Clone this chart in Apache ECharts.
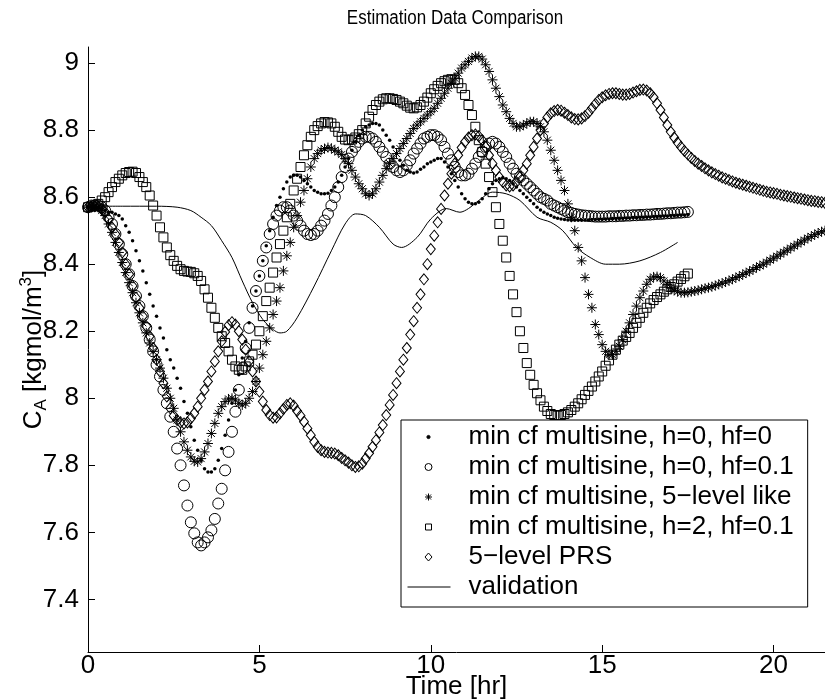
<!DOCTYPE html>
<html><head><meta charset="utf-8">
<script src="https://cdn.jsdelivr.net/npm/echarts@6/dist/echarts.min.js"></script>
<style>html,body{margin:0;padding:0;background:#fff}#c{width:825px;height:700px}</style>
</head><body><div id="c"></div>
<script>
const FONT = "'Liberation Sans', Arial, Helvetica, sans-serif";
const dt = 0.1; // sample time of the marker series [hr]
const titleText = 'Estimation Data Comparison';

const names = ['min cf multisine, h=0, hf=0','min cf multisine, h=0, hf=0.1','min cf multisine, 5\u2212level like','min cf multisine, h=2, hf=0.1','5\u2212level PRS','validation'];

// min cf multisine, h=0, hf=0   (t = 0 .. 17.5)
const dotsVals = [
8.57,8.572,8.572,8.57,8.565,8.56,8.555,8.555,8.55,8.545,
8.535,8.515,8.495,8.47,8.44,8.41,8.38,8.345,8.31,8.275,
8.245,8.21,8.18,8.145,8.115,8.09,8.06,8.03,7.99,7.955,
7.915,7.875,7.845,7.815,7.79,7.78,7.78,7.79,7.815,7.85,
7.89,7.935,7.985,8.025,8.07,8.12,8.17,8.225,8.275,8.32,
8.365,8.41,8.455,8.50,8.54,8.575,8.60,8.625,8.645,8.66,
8.665,8.665,8.66,8.65,8.64,8.63,8.62,8.615,8.61,8.61,
8.612,8.62,8.63,8.645,8.665,8.69,8.715,8.74,8.765,8.785,
8.80,8.81,8.815,8.82,8.82,8.815,8.80,8.785,8.77,8.75,
8.73,8.71,8.695,8.68,8.675,8.672,8.675,8.683,8.69,8.70,
8.705,8.71,8.715,8.715,8.705,8.69,8.67,8.65,8.63,8.61,
8.595,8.585,8.58,8.58,8.585,8.595,8.61,8.625,8.64,8.65,
8.655,8.658,8.655,8.65,8.64,8.63,8.62,8.61,8.60,8.59,
8.58,8.57,8.562,8.555,8.55,8.545,8.54,8.537,8.535,8.533,
8.532,8.531,8.531,8.531,8.531,8.532,8.532,8.533,8.533,8.534,
8.534,8.535,8.535,8.536,8.536,8.537,8.537,8.538,8.538,8.539,
8.539,8.54,8.54,8.541,8.541,8.542,8.542,8.543,8.544,8.544,
8.545,8.545,8.546,8.547,8.547,8.548];

// min cf multisine, h=0, hf=0.1   (t = 0 .. 17.5)
const circleVals = [
8.57,8.575,8.575,8.575,8.57,8.56,8.54,8.52,8.49,8.46,
8.43,8.40,8.37,8.335,8.305,8.275,8.245,8.21,8.175,8.14,
8.10,8.065,8.025,7.985,7.945,7.90,7.85,7.80,7.74,7.68,
7.63,7.597,7.57,7.561,7.57,7.585,7.606,7.64,7.686,7.73,
7.785,7.84,7.90,7.96,8.025,8.09,8.15,8.21,8.27,8.32,
8.365,8.41,8.45,8.49,8.52,8.545,8.56,8.57,8.57,8.56,
8.545,8.53,8.515,8.50,8.49,8.487,8.49,8.50,8.515,8.53,
8.55,8.575,8.60,8.63,8.66,8.69,8.715,8.735,8.75,8.765,
8.775,8.78,8.78,8.775,8.765,8.75,8.735,8.72,8.70,8.69,
8.68,8.675,8.68,8.695,8.71,8.73,8.745,8.76,8.775,8.78,
8.785,8.785,8.78,8.77,8.75,8.73,8.71,8.69,8.675,8.665,
8.665,8.67,8.685,8.70,8.72,8.735,8.75,8.76,8.765,8.76,
8.75,8.735,8.72,8.70,8.685,8.67,8.66,8.65,8.64,8.63,
8.62,8.61,8.60,8.595,8.59,8.58,8.575,8.57,8.565,8.56,
8.555,8.553,8.55,8.548,8.546,8.545,8.544,8.543,8.542,8.542,
8.542,8.542,8.543,8.543,8.543,8.544,8.544,8.545,8.545,8.546,
8.546,8.547,8.547,8.548,8.548,8.549,8.55,8.55,8.551,8.552,
8.552,8.553,8.554,8.554,8.555,8.556];

// min cf multisine, 5-level like   (t = 0 .. 21.5)
const starVals = [
8.57,8.573,8.573,8.57,8.56,8.545,8.52,8.495,8.465,8.435,
8.405,8.375,8.345,8.315,8.285,8.255,8.225,8.195,8.165,8.14,
8.115,8.09,8.06,8.03,8.00,7.97,7.935,7.90,7.87,7.845,
7.825,7.812,7.81,7.82,7.84,7.865,7.895,7.925,7.955,7.975,
7.99,7.998,8.00,7.995,7.985,7.98,7.985,8.00,8.02,8.05,
8.09,8.13,8.17,8.21,8.25,8.29,8.33,8.38,8.425,8.465,
8.51,8.545,8.585,8.62,8.655,8.69,8.715,8.73,8.74,8.745,
8.748,8.746,8.74,8.735,8.727,8.715,8.70,8.68,8.66,8.64,
8.625,8.61,8.605,8.61,8.625,8.645,8.665,8.685,8.70,8.715,
8.73,8.745,8.76,8.775,8.79,8.805,8.815,8.825,8.835,8.845,
8.855,8.865,8.88,8.895,8.91,8.925,8.94,8.955,8.97,8.985,
8.995,9.005,9.015,9.02,9.02,9.012,8.995,8.975,8.95,8.925,
8.90,8.875,8.855,8.835,8.82,8.81,8.81,8.815,8.82,8.825,
8.825,8.82,8.81,8.795,8.77,8.74,8.71,8.68,8.65,8.62,
8.58,8.54,8.50,8.45,8.41,8.36,8.31,8.27,8.22,8.19,
8.16,8.14,8.13,8.13,8.14,8.155,8.175,8.20,8.225,8.25,
8.275,8.30,8.32,8.34,8.355,8.362,8.363,8.36,8.35,8.34,
8.33,8.322,8.318,8.315,8.315,8.316,8.318,8.32,8.322,8.325,
8.328,8.33,8.333,8.336,8.34,8.343,8.347,8.351,8.355,8.36,
8.364,8.369,8.374,8.379,8.384,8.39,8.395,8.40,8.406,8.412,
8.418,8.424,8.43,8.436,8.442,8.448,8.454,8.46,8.466,8.472,
8.478,8.483,8.488,8.493,8.497,8.50];

// min cf multisine, h=2, hf=0.1   (t = 0 .. 17.5)
const squareVals = [
8.57,8.572,8.575,8.58,8.59,8.60,8.615,8.63,8.645,8.655,
8.665,8.672,8.675,8.676,8.672,8.66,8.645,8.63,8.605,8.575,
8.545,8.51,8.48,8.45,8.427,8.41,8.395,8.385,8.38,8.378,
8.377,8.373,8.365,8.35,8.325,8.30,8.27,8.24,8.21,8.185,
8.165,8.14,8.115,8.095,8.085,8.085,8.095,8.11,8.13,8.16,
8.20,8.245,8.29,8.33,8.375,8.42,8.46,8.50,8.54,8.58,
8.62,8.655,8.69,8.725,8.755,8.78,8.80,8.812,8.82,8.824,
8.823,8.82,8.81,8.795,8.78,8.772,8.77,8.772,8.778,8.788,
8.80,8.82,8.84,8.86,8.875,8.885,8.892,8.895,8.895,8.893,
8.89,8.885,8.88,8.873,8.867,8.865,8.868,8.875,8.885,8.897,
8.91,8.922,8.932,8.94,8.946,8.95,8.952,8.95,8.94,8.925,
8.905,8.875,8.845,8.81,8.77,8.735,8.70,8.66,8.615,8.57,
8.52,8.47,8.42,8.365,8.31,8.257,8.20,8.15,8.105,8.07,
8.04,8.015,7.994,7.975,7.962,7.953,7.95,7.948,7.95,7.953,
7.958,7.965,7.975,7.985,7.997,8.01,8.022,8.035,8.05,8.065,
8.08,8.097,8.113,8.13,8.145,8.16,8.172,8.183,8.195,8.21,
8.225,8.24,8.255,8.27,8.283,8.293,8.302,8.31,8.318,8.325,
8.332,8.34,8.348,8.356,8.364,8.372];

// 5-level PRS   (t = 0 .. 21.5)
const diamondVals = [
8.57,8.572,8.573,8.572,8.565,8.555,8.535,8.51,8.49,8.465,
8.435,8.40,8.37,8.335,8.30,8.27,8.245,8.215,8.185,8.15,
8.115,8.08,8.045,8.005,7.97,7.948,7.935,7.928,7.925,7.928,
7.94,7.955,7.975,8.00,8.025,8.05,8.08,8.11,8.14,8.17,
8.198,8.218,8.227,8.22,8.20,8.175,8.145,8.11,8.08,8.05,
8.02,7.99,7.965,7.95,7.942,7.943,7.955,7.968,7.98,7.985,
7.978,7.962,7.948,7.93,7.91,7.89,7.87,7.855,7.845,7.84,
7.838,7.837,7.835,7.83,7.822,7.815,7.808,7.80,7.795,7.797,
7.805,7.82,7.836,7.855,7.875,7.898,7.92,7.95,7.98,8.01,
8.045,8.08,8.115,8.15,8.19,8.23,8.27,8.31,8.355,8.40,
8.445,8.485,8.525,8.565,8.605,8.64,8.67,8.70,8.725,8.748,
8.765,8.778,8.785,8.787,8.782,8.77,8.75,8.725,8.70,8.68,
8.66,8.645,8.635,8.632,8.635,8.645,8.66,8.68,8.70,8.725,
8.75,8.775,8.80,8.82,8.838,8.85,8.857,8.86,8.858,8.852,
8.845,8.838,8.833,8.832,8.835,8.842,8.852,8.865,8.878,8.89,
8.898,8.904,8.908,8.91,8.91,8.908,8.906,8.906,8.908,8.912,
8.916,8.92,8.921,8.918,8.91,8.898,8.88,8.86,8.838,8.815,
8.795,8.778,8.763,8.75,8.738,8.727,8.717,8.708,8.70,8.693,
8.686,8.68,8.674,8.669,8.664,8.659,8.655,8.651,8.647,8.643,
8.64,8.637,8.634,8.631,8.628,8.625,8.622,8.619,8.616,8.614,
8.612,8.61,8.607,8.605,8.603,8.601,8.599,8.597,8.595,8.593,
8.591,8.589,8.588,8.586,8.585,8.583];

// validation
const valTime = [0,1,2,2.6,3.0,3.3,3.6,3.9,4.2,4.5,4.8,5.1,5.4,5.6,5.8,6.1,6.6,7.1,7.5,7.8,8.1,8.5,8.9,9.15,9.6,10.0,10.45,10.85,11.1,11.4,11.8,12.2,12.6,13.1,13.5,13.85,14.25,14.65,15.1,15.5,16.1,16.7,17.2];
const valVals = [8.573,8.573,8.573,8.57,8.56,8.54,8.515,8.47,8.42,8.35,8.285,8.235,8.205,8.195,8.20,8.24,8.335,8.44,8.52,8.55,8.545,8.51,8.46,8.45,8.48,8.535,8.566,8.555,8.566,8.59,8.615,8.61,8.59,8.54,8.525,8.50,8.45,8.42,8.40,8.40,8.41,8.435,8.465];

const xTicks = [0,5,10,15,20];
const yTicks = [7.4,7.6,7.8,8,8.2,8.4,8.6,8.8,9];

function toPts(vals){ return vals.map((v,i)=>[Math.round(i*dt*10)/10, v]); }

const STAR = 'path://M5 0L5 10M0 5L10 5M1.5 1.5L8.5 8.5M1.5 8.5L8.5 1.5';
const hollow = {color:'rgba(0,0,0,0)', borderColor:'#000', borderWidth:1, opacity:1};
function scatter(name, vals, symbol, size, style){
  return {type:'scatter', name, data: toPts(vals), symbol, symbolSize:size, itemStyle:style,
    silent:true, emphasis:{disabled:true}, clip:true, z:2};
}

// legend samples: marker centred on a 44px-wide sample slot
const legendIcons = [
 'path://M0 0M44 20M23.6 10A1.6 1.6 0 1 1 20.4 10A1.6 1.6 0 1 1 23.6 10Z',
 'path://M0 0M44 20M25.5 10A3.5 3.5 0 1 1 18.5 10A3.5 3.5 0 1 1 25.5 10Z',
 'path://M0 0M44 20M22 6.5L22 13.5M18.5 10L25.5 10M19.5 7.5L24.5 12.5M19.5 12.5L24.5 7.5',
 'path://M0 0M44 20M19 7L25 7L25 13L19 13Z',
 'path://M0 0M44 20M22 6L25.5 10L22 14L18.5 10Z',
 'path://M0 0M44 20M1 10L44 10'
];

const chart = echarts.init(document.getElementById('c'), null, {renderer:'canvas'});
chart.setOption({
  animation:false,
  backgroundColor:'#fff',
  graphic:[{type:'text', x:455, y:18, scaleX:0.85, silent:true,
    style:{text:titleText, fontFamily:FONT, fontSize:20, fill:'#000', align:'center', verticalAlign:'middle'}}],
  grid:{left:88, top:47, right:0, bottom:48, containLabel:false, outerBoundsMode:'none'},
  xAxis:{type:'value', min:0, max:21.5,
    axisLine:{show:true, onZero:false, lineStyle:{color:'#000', width:1}},
    axisTick:{show:true, inside:true, length:7, customValues:xTicks, lineStyle:{color:'#000'}},
    axisLabel:{customValues:xTicks, fontFamily:FONT, fontSize:26, color:'#000', margin:1},
    splitLine:{show:false},
    name:'Time [hr]', nameLocation:'middle', nameGap:22, nameMoveOverlap:false,
    nameTextStyle:{fontFamily:FONT, fontSize:26, color:'#000'}},
  yAxis:{type:'value', min:7.243, max:9.048,
    axisLine:{show:true, onZero:false, lineStyle:{color:'#000', width:1}},
    axisTick:{show:true, inside:true, length:7, customValues:yTicks, lineStyle:{color:'#000'}},
    axisLabel:{customValues:yTicks, fontFamily:FONT, fontSize:26, color:'#000', margin:9},
    splitLine:{show:false},
    name:'{a|C}{s|A}{a| [kgmol/m}{p|3}{a|]}', nameLocation:'middle', nameRotate:90, nameGap:38, nameMoveOverlap:false,
    nameTextStyle:{fontFamily:FONT, fontSize:26, color:'#000',
      rich:{a:{fontFamily:FONT, fontSize:26, color:'#000', lineHeight:32},
            s:{fontFamily:FONT, fontSize:17, color:'#000', verticalAlign:'bottom'},
            p:{fontFamily:FONT, fontSize:17, color:'#000', verticalAlign:'top'}}}},
  legend:{orient:'vertical', left:401, top:420, padding:[4,14,7,5], itemGap:4,
    itemWidth:44, itemHeight:20, borderColor:'#000', borderWidth:1, backgroundColor:'#fff',
    selectedMode:false, itemStyle:{borderWidth:1},
    formatter: n => '{g|}{t|' + n + '}',
    textStyle:{fontFamily:FONT, fontSize:26, color:'#000', lineHeight:26,
      rich:{g:{width:13}, t:{fontFamily:FONT, fontSize:26, color:'#000', lineHeight:26}}},
    data: names.map((n,i)=> ({name:n, icon:legendIcons[i]}))},
  series:[
    scatter(names[0], dotsVals, 'circle', 3.5, {color:'#000', borderColor:'#000', borderWidth:0, opacity:1}),
    scatter(names[1], circleVals, 'circle', 11, hollow),
    scatter(names[2], starVals, STAR, 10, hollow),
    scatter(names[3], squareVals, 'rect', 9, hollow),
    scatter(names[4], diamondVals, 'diamond', [9,11], hollow),
    {type:'line', name:names[5], data: valTime.map((t,i)=>[t, valVals[i]]), showSymbol:false, symbol:'none',
      smooth:0.3, lineStyle:{color:'#000', width:1}, itemStyle:{color:'#000', borderColor:'#000'}, silent:true, z:3}
  ]
});
</script></body></html>
